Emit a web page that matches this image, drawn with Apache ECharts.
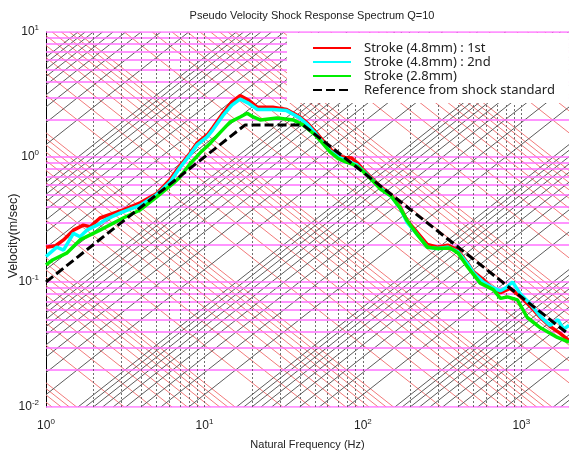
<!DOCTYPE html>
<html>
<head>
<meta charset="utf-8">
<script src="https://cdn.jsdelivr.net/npm/echarts@6/dist/echarts.min.js"></script>
<style>
  html, body { margin: 0; padding: 0; background: #fff; }
  #chart { width: 569px; height: 456px; }
</style>
</head>
<body>
<div id="chart"></div>
<script>
// measured pseudo velocity SRS (Hz, m/s)
const freq1st = [1, 1.15, 1.29, 1.49, 1.72, 1.9, 2.19, 2.6, 3.07, 3.93, 5.0, 6.07, 7.0, 8.1, 9.0, 10.4, 11.3, 13.1, 14.9, 16.8, 18.9, 21.6, 27, 33, 40, 45, 50, 56, 62, 70, 77, 85, 92, 100, 116, 130, 150, 172, 190, 220, 255, 296, 343, 397, 458, 500, 575, 658, 739, 850, 990, 1150, 1320, 1520, 1750, 2000];
const vel1st = [0.19, 0.195, 0.217, 0.26, 0.285, 0.277, 0.325, 0.35, 0.377, 0.43, 0.51, 0.66, 0.85, 1.07, 1.3, 1.5, 1.72, 2.25, 2.76, 3.1, 2.86, 2.5, 2.5, 2.4, 2.1, 1.85, 1.6, 1.35, 1.16, 1.02, 0.99, 0.98, 0.9, 0.8, 0.66, 0.57, 0.5, 0.4, 0.31, 0.25, 0.2, 0.19, 0.197, 0.18, 0.142, 0.12, 0.104, 0.089, 0.082, 0.089, 0.076, 0.063, 0.052, 0.044, 0.039, 0.034];

const freq2nd = [1, 1.17, 1.29, 1.49, 1.64, 1.81, 2.1, 2.43, 3.0, 3.93, 5.0, 6.07, 7.0, 8.1, 9.0, 10.4, 11.3, 13.1, 14.9, 16.8, 18.9, 21.6, 27, 33, 40, 45, 50, 56, 62, 70, 77, 85, 92, 100, 116, 130, 150, 172, 190, 220, 255, 296, 343, 397, 458, 500, 575, 658, 739, 800, 880, 990, 1150, 1320, 1520, 1700, 1850, 2000];
const vel2nd = [0.16, 0.19, 0.18, 0.245, 0.23, 0.26, 0.285, 0.32, 0.36, 0.41, 0.5, 0.63, 0.82, 1.04, 1.25, 1.45, 1.65, 2.15, 2.6, 2.9, 2.7, 2.4, 2.4, 2.35, 2.05, 1.8, 1.55, 1.3, 1.12, 1.0, 0.95, 0.9, 0.86, 0.78, 0.65, 0.56, 0.49, 0.39, 0.3, 0.24, 0.19, 0.185, 0.19, 0.175, 0.14, 0.118, 0.1, 0.09, 0.085, 0.09, 0.1, 0.08, 0.066, 0.053, 0.045, 0.05, 0.042, 0.045];

const freq28 = [1, 1.1, 1.35, 1.64, 2.19, 3.07, 3.93, 5.0, 6.4, 7.0, 8.1, 9.4, 10.9, 12.5, 14.5, 16.8, 18.6, 20.3, 22.5, 28.8, 36.4, 42, 50, 56, 62, 70, 77, 85, 92, 100, 116, 130, 150, 172, 190, 220, 255, 296, 356, 400, 458, 550, 665, 739, 817, 945, 1090, 1320, 1690, 2000];
const vel28 = [0.137, 0.15, 0.17, 0.217, 0.26, 0.325, 0.377, 0.48, 0.62, 0.69, 0.88, 1.08, 1.29, 1.56, 1.9, 2.09, 2.24, 2.09, 1.98, 2.05, 1.98, 1.8, 1.5, 1.28, 1.1, 0.97, 0.92, 0.88, 0.84, 0.77, 0.64, 0.55, 0.49, 0.39, 0.31, 0.24, 0.19, 0.185, 0.187, 0.17, 0.132, 0.098, 0.087, 0.074, 0.076, 0.072, 0.052, 0.043, 0.036, 0.033];

const freqRef = [1, 18, 42, 2000];
const velRef = [0.1, 1.8, 1.8, 0.038];

const seriesNames = ['Stroke (4.8mm) : 1st', 'Stroke (4.8mm) : 2nd', 'Stroke (2.8mm)', 'Reference from shock standard'];

// axis ranges
const xMin = 1, xMax = 2000, yMin = 0.01, yMax = 10;

function zip(a, b) {
  return a.map((v, i) => [v, b[i]]);
}

// 1..9 x 10^n inside [lo, hi]
function logSteps(lo, hi) {
  let out = [];
  for (let n = -6; n <= 6; n++) {
    for (let k = 1; k <= 9; k++) {
      let v = k * Math.pow(10, n);
      if (v >= lo * 0.9999 && v <= hi * 1.0001) out.push(v);
    }
  }
  return out;
}

// constant acceleration lines (g) : V = A*g/(2*pi*f)
let accelLines = [];
logSteps(1e-4, 1e5).forEach(a => {
  let c = a * 9.81 / (2 * Math.PI);
  let f1 = Math.max(xMin, c / yMax), f2 = Math.min(xMax, c / yMin);
  if (f1 < f2) accelLines.push({ coords: [[f1, c / f1], [f2, c / f2]] });
});

// constant displacement lines (mm) : V = 2*pi*f*D
let dispLines = [];
logSteps(1e-5, 1e4).forEach(d => {
  let c = 2 * Math.PI * d / 1000;
  let f1 = Math.max(xMin, yMin / c), f2 = Math.min(xMax, yMax / c);
  if (f1 < f2) dispLines.push({ coords: [[f1, c * f1], [f2, c * f2]] });
});

let hLines = logSteps(yMin, yMax).map(v => ({ coords: [[xMin, v], [xMax, v]] }));
let vLines = logSteps(2, xMax).map(f => ({ coords: [[f, yMin], [f, yMax]] }));

function powLabel(v) {
  let e = Math.log10(v);
  if (Math.abs(e - Math.round(e)) > 1e-6) return '';
  return '10{s|' + Math.round(e) + '}';
}

const labelFont = {
  color: '#222',
  fontSize: 12,
  fontFamily: 'Liberation Sans',
  rich: { s: { fontSize: 8, fontFamily: 'Liberation Sans', color: '#222', padding: [0, 0, 8, 0] } }
};

let chart = echarts.init(document.getElementById('chart'));
let option = {
  animation: false,
  backgroundColor: '#fff',
  title: {
    text: 'Pseudo Velocity Shock Response Spectrum Q=10',
    left: 307,
    top: 5,
    textAlign: 'center',
    textStyle: { fontSize: 11, fontWeight: 'normal', color: '#222', fontFamily: 'Liberation Sans' }
  },
  grid: { left: 46, right: 0, top: 32, bottom: 49 },
  legend: {
    data: seriesNames,
    orient: 'vertical',
    left: 287,
    top: 33,
    backgroundColor: '#fff',
    padding: [8, 14, 6, 25],
    itemWidth: 38,
    itemHeight: 2,
    itemGap: 0,
    itemStyle: { opacity: 0 },
    textStyle: { fontSize: 13, lineHeight: 14, color: '#222', fontFamily: 'Noto Sans', padding: [0, 0, 0, 8] }
  },
  xAxis: {
    type: 'log',
    logBase: 10,
    min: xMin,
    max: xMax,
    interval: 1,
    name: 'Natural Frequency (Hz)',
    nameLocation: 'middle',
    nameGap: 32,
    nameTextStyle: { fontSize: 11, color: '#222', fontFamily: 'Liberation Sans' },
    axisLine: { show: false },
    axisTick: { show: false },
    splitLine: { show: false },
    axisLabel: Object.assign({ formatter: powLabel, margin: 11, showMaxLabel: false }, labelFont)
  },
  yAxis: {
    type: 'log',
    logBase: 10,
    min: yMin,
    max: yMax,
    interval: 1,
    axisLine: { show: true, lineStyle: { color: '#000', width: 1 } },
    axisTick: { show: false },
    splitLine: { show: false },
    axisLabel: Object.assign({ formatter: powLabel, margin: 7 }, labelFont)
  },
  graphic: [{
    type: 'text',
    x: 14,
    y: 236,
    rotation: Math.PI / 2,
    style: {
      text: 'Velocity(m/sec)',
      fontSize: 12.5,
      fontFamily: 'Liberation Sans',
      fill: '#222',
      align: 'center',
      verticalAlign: 'middle'
    }
  }],
  series: [
    {
      type: 'lines', coordinateSystem: 'cartesian2d', silent: true, z: 1,
      lineStyle: { color: '#f27a7a', width: 1, opacity: 1 },
      data: accelLines
    },
    {
      type: 'lines', coordinateSystem: 'cartesian2d', silent: true, z: 1,
      lineStyle: { color: '#5c5c5c', width: 1, opacity: 1 },
      data: dispLines
    },
    {
      type: 'lines', coordinateSystem: 'cartesian2d', silent: true, z: 2,
      lineStyle: { color: '#ff70ff', width: 1.6, opacity: 1 },
      data: hLines
    },
    {
      type: 'lines', coordinateSystem: 'cartesian2d', silent: true, z: 2,
      lineStyle: { color: '#555', width: 1, type: [2, 2], opacity: 0.85 },
      data: vLines
    },
    {
      name: seriesNames[0], type: 'line', symbol: 'none', z: 5,
      color: '#ff0000', lineStyle: { width: 3.5 },
      data: zip(freq1st, vel1st)
    },
    {
      name: seriesNames[1], type: 'line', symbol: 'none', z: 6,
      color: '#00ffff', lineStyle: { width: 3.5 },
      data: zip(freq2nd, vel2nd)
    },
    {
      name: seriesNames[2], type: 'line', symbol: 'none', z: 7,
      color: '#00ee00', lineStyle: { width: 3.5 },
      data: zip(freq28, vel28)
    },
    {
      name: seriesNames[3], type: 'line', symbol: 'none', z: 8,
      color: '#000000', lineStyle: { width: 3, type: [9, 4] },
      data: zip(freqRef, velRef)
    }
  ]
};
chart.setOption(option);
</script>
</body>
</html>
